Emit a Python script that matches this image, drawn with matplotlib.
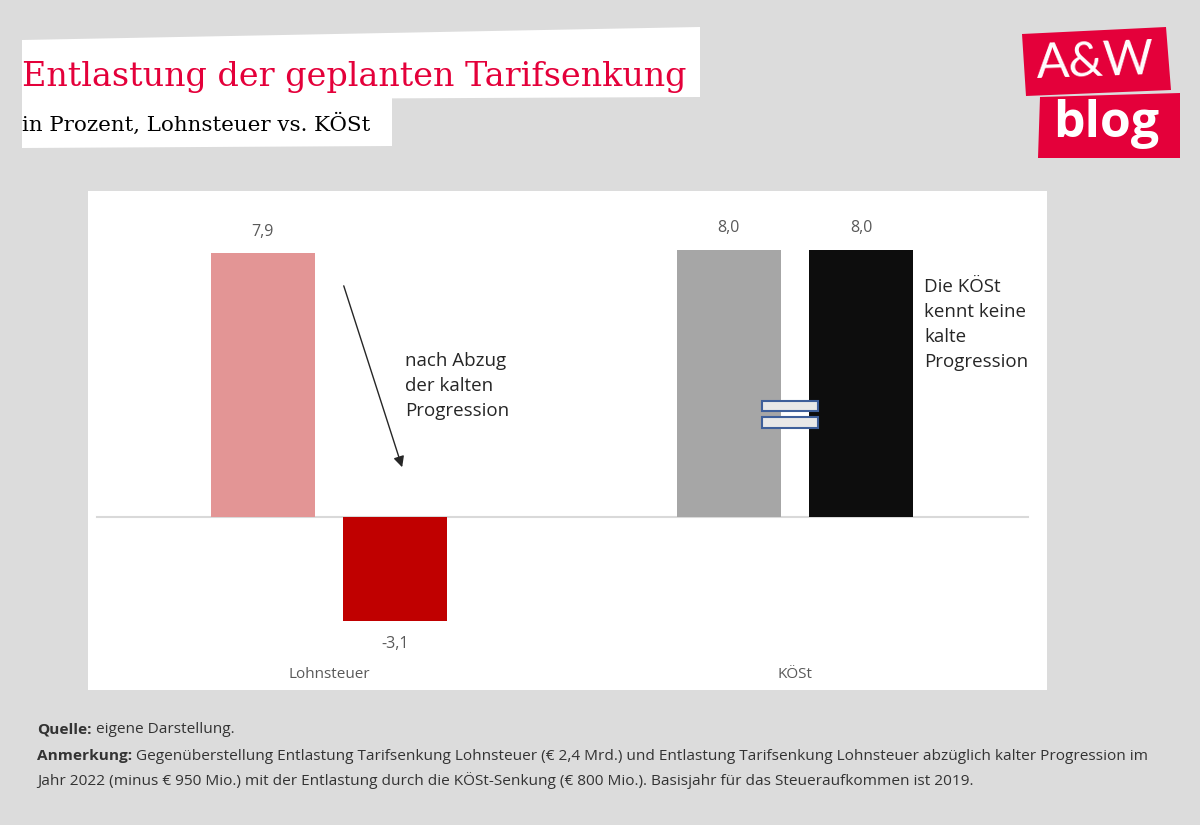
import matplotlib.pyplot as plt
from matplotlib.patches import Polygon, Rectangle
import numpy as np

# Daten
categories = ['Lohnsteuer', 'KÖSt']
left_values = [7.9, 8.0]     # Lohnsteuer Entlastung / KÖSt (grau)
right_values = [-3.1, 8.0]   # nach kalter Progression / KÖSt (schwarz)
left_colors = ['#e39595', '#a6a6a6']
right_colors = ['#c00000', '#0d0d0d']
left_labels = ['7,9', '8,0']
right_labels = ['-3,1', '8,0']

BG = '#dcdcdc'
RED = '#e4003a'
chart_font = ['Open Sans', 'DejaVu Sans']

fig = plt.figure(figsize=(12, 8.25), dpi=100, facecolor=BG)


def px(x, y):
    return (x / 1200, 1 - y / 825)


# Titelkasten (leicht gekippt)
fig.patches.append(Polygon([px(22, 40), px(700, 27), px(700, 97), px(22, 100)],
                           closed=True, transform=fig.transFigure, fc='white', ec='none'))
fig.patches.append(Polygon([px(22, 99), px(392, 97), px(392, 146), px(22, 148)],
                           closed=True, transform=fig.transFigure, fc='white', ec='none'))
fig.text(22 / 1200, 1 - 86 / 825, 'Entlastung der geplanten Tarifsenkung',
         family='DejaVu Serif', fontsize=24, color=RED, ha='left', va='baseline')
fig.text(22 / 1200, 1 - 131 / 825, 'in Prozent, Lohnsteuer vs. KÖSt',
         family='DejaVu Serif', fontsize=15.4, color='black', ha='left', va='baseline')

# Logo
fig.patches.append(Polygon([px(1022, 34), px(1166, 27), px(1171, 90), px(1026, 96)],
                           closed=True, transform=fig.transFigure, fc=RED, ec='none'))
fig.patches.append(Polygon([px(1040, 97), px(1180, 93), px(1180, 158), px(1038, 158)],
                           closed=True, transform=fig.transFigure, fc=RED, ec='none'))
fig.text(1095 / 1200, 1 - 62 / 825, 'A&W', family='Lato',
         fontsize=35, color='white', ha='center', va='center', rotation=2)
fig.text(1106 / 1200, 1 - 124 / 825, 'blog', family='Open Sans', fontweight='bold',
         fontsize=36, color='white', ha='center', va='center')

# Diagramm
ax = fig.add_axes([88 / 1200, 135 / 825, 959 / 1200, 499 / 825])
ax.set_facecolor('white')
for s in ax.spines.values():
    s.set_visible(False)
ax.set_xticks([])
ax.set_yticks([])

x = np.arange(len(categories))
width = 0.223
offset = 0.142
ax.bar(x - offset, left_values, width, color=left_colors)
ax.bar(x + offset, right_values, width, color=right_colors)
ax.set_xlim(-0.517, 1.541)
ax.set_ylim(-5.18, 9.76)
ax.axhline(0, xmin=0.0094, xmax=0.98, color='#d9d9d9', lw=1.5, zorder=0)

for i in range(len(categories)):
    ax.text(x[i] - offset, left_values[i] + 0.4, left_labels[i], ha='center', va='bottom',
            family=chart_font, fontsize=11.5, color='#595959')
    yv = right_values[i]
    if yv >= 0:
        ax.text(x[i] + offset, yv + 0.4, right_labels[i], ha='center', va='bottom',
                family=chart_font, fontsize=11.5, color='#595959')
    else:
        ax.text(x[i] + offset, yv - 0.45, right_labels[i], ha='center', va='top',
                family=chart_font, fontsize=11.5, color='#595959')
    ax.text(x[i], -4.73, categories[i], ha='center', va='center',
            family=chart_font, fontsize=11, color='#595959')

# Pfeil und Beschriftungen
ax.annotate('', xy=(0.159, 1.41), xytext=(0.030, 7.0),
            arrowprops=dict(arrowstyle='-|>', color='#262626', lw=1, mutation_scale=16))
ax.text(0.163, 3.92, 'nach Abzug\nder kalten\nProgression', ha='left', va='center',
        family=chart_font, fontsize=13.5, color='#262626', linespacing=1.5)
ax.text(1.278, 5.75, 'Die KÖSt\nkennt keine\nkalte\nProgression', ha='left', va='center',
        family=chart_font, fontsize=13.5, color='#262626', linespacing=1.5)

# Gleichheitszeichen
for y0, h in [(3.17, 0.30), (2.66, 0.33)]:
    ax.add_patch(Rectangle((0.930, y0), 0.12, h, fc='#e8e8e8', ec='#3e5f9a', lw=1.5, zorder=3))

# Fußnote
foot_font = ['Open Sans', 'DejaVu Sans']
foot_col = '#333333'
foot_size = 11.1
lines = [
    ('Quelle:', ' eigene Darstellung.'),
    ('Anmerkung:', ' Gegenüberstellung Entlastung Tarifsenkung Lohnsteuer (€ 2,4 Mrd.) und Entlastung '
                   'Tarifsenkung Lohnsteuer abzüglich kalter Progression im'),
    ('', 'Jahr 2022 (minus € 950 Mio.) mit der Entlastung durch die KÖSt-Senkung (€ 800 Mio.). '
         'Basisjahr für das Steueraufkommen ist 2019.'),
]
ys = [733, 760, 785]
renderer = fig.canvas.get_renderer()
for (bold, rest), yy in zip(lines, ys):
    x0 = 37 / 1200
    if bold:
        t = fig.text(x0, 1 - yy / 825, bold, family=foot_font, fontweight='bold',
                     fontsize=foot_size, color=foot_col, ha='left', va='baseline')
        bb = t.get_window_extent(renderer)
        x0 = bb.x1 / fig.bbox.width
    fig.text(x0, 1 - yy / 825, rest, family=foot_font,
             fontsize=foot_size, color=foot_col, ha='left', va='baseline')

fig.savefig('out.png', dpi=100, facecolor=BG)
